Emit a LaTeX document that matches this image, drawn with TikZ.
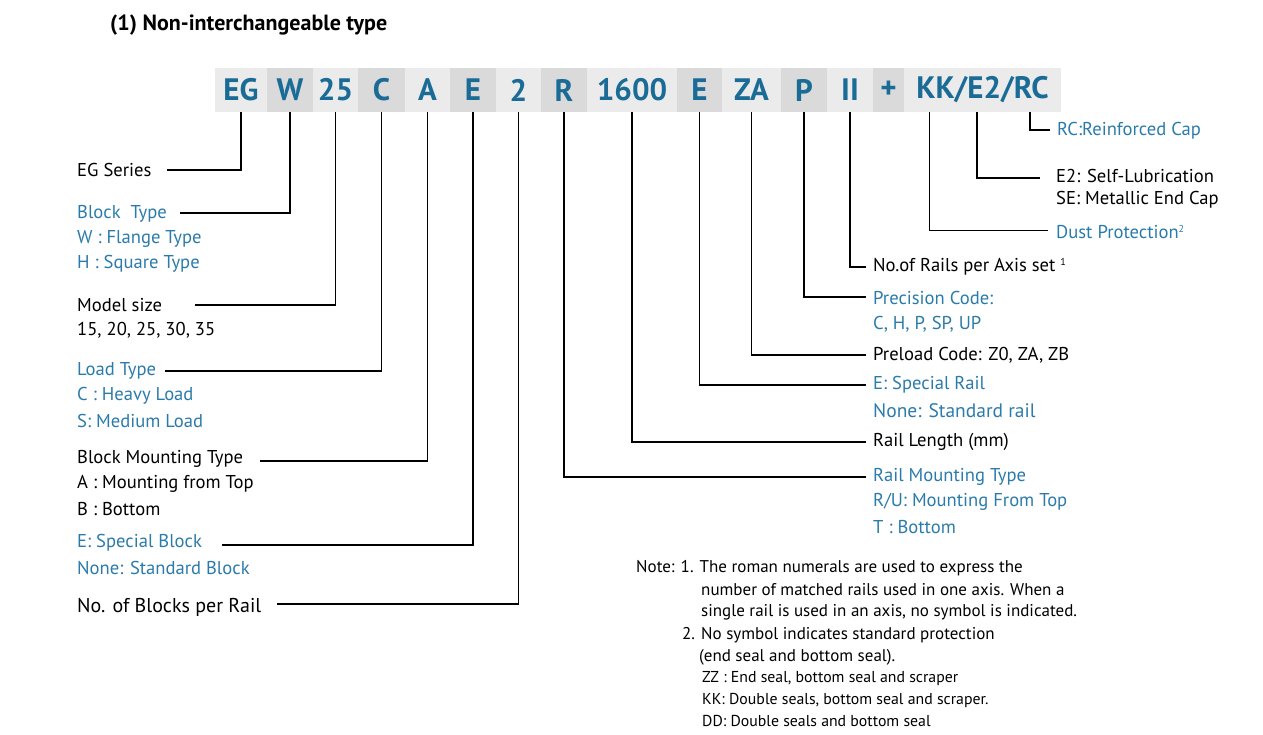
\documentclass[tikz,border=0pt]{standalone}
\usepackage{fontspec}
\setmainfont{PT Sans}
\begin{document}
\definecolor{hb}{HTML}{1A6B96}
\definecolor{lb}{HTML}{2B7BAA}
\definecolor{bx1}{HTML}{EBEBEB}
\definecolor{bx2}{HTML}{DADADA}
\begin{tikzpicture}[x=1pt,y=-1pt,
  box/.style={minimum height=44,inner sep=0,text=hb,font=\fontsize{31}{31}\selectfont\bfseries},
  lab/.style={anchor=west,inner sep=0,font=\fontsize{18.6}{20}\selectfont},
  blu/.style={lab,text=lb},
  nt/.style={anchor=west,inner sep=0,font=\fontsize{17}{18}\selectfont},
  nts/.style={anchor=west,inner sep=0,font=\fontsize{15.8}{17}\selectfont},
  ln/.style={line width=1.6pt}]
\useasboundingbox (0,0) rectangle (1263,735);
\node[anchor=west,inner sep=0,font=\fontsize{22}{24}\selectfont\bfseries] (title) at (110,25) {(1) Non-interchangeable type};
% boxes
\foreach \n/\a/\b/\c/\t in {eg/215/267/bx1/EG, w/267/313/bx2/W, s/313/358/bx1/25, c/358/405/bx2/C, a/405/450/bx1/A, e/450/496/bx2/E, two/496/541/bx1/2, r/541/587/bx2/R, len/587/677/bx1/1600, er/677/722/bx2/E, za/722/781/bx1/ZA, p/781/827/bx2/P, ii/827/873/bx1/II, plus/873/904/bx2/+}
  \node[box,fill=\c,minimum width={\b-\a}] (\n) at ({(\a+\b)/2},90) {\t};
\node[box,fill=bx1,minimum width=157] (kk) at (982.5,90) {KK/E2/RC};
\coordinate (kkt) at (929,112);
\coordinate (e2t) at (977,112);
\coordinate (rct) at (1030,112);
% left labels
\node[lab] (l1) at (77,170) {EG Series};
\node[blu] (l2) at (77,214) {Block\ \ Type};
\node[blu] (l2a) at (77,239) {W : Flange Type};
\node[blu] (l2b) at (77,264) {H : Square Type};
\node[lab] (l3) at (77,305) {Model size};
\node[lab] (l3a) at (77,330) {15, 20, 25, 30, 35};
\node[blu] (l4) at (77,371) {Load Type};
\node[blu] (l4a) at (77,396) {C : Heavy Load};
\node[blu] (l4b) at (77,421) {S: Medium Load};
\node[lab] (l5) at (77,459) {Block Mounting Type};
\node[lab] (l5a) at (77,484) {A : Mounting from Top};
\node[lab] (l5b) at (77,509) {B : Bottom};
\node[blu] (l6) at (77,543) {E: Special Block};
\node[blu] (l6a) at (77,568) {None: Standard Block};
\node[lab,font=\fontsize{20}{22}\selectfont] (l7) at (77,607) {No. of Blocks per Rail};
\draw[ln] (167,170) -| (eg.south);
\draw[ln] (180,213) -| (w.south);
\draw[ln] (195,305) -| (s.south);
\draw[ln] (165,371) -| (c.south);
\draw[ln] (260,461) -| (a.south);
\draw[ln] (222,545) -| (e.south);
\draw[ln] (277,604) -| (two.south);
% right labels
\node[blu] (rc) at (1057,131) {RC:Reinforced Cap};
\node[lab] (e2) at (1056,176) {E2: Self-Lubrication};
\node[lab] (e2a) at (1056,200) {SE: Metallic End Cap};
\node[blu] (dp) at (1056,232) {Dust Protection\raisebox{6pt}{\fontsize{10}{10}\selectfont 2}};
\node[lab] (nr) at (873,267) {No.of Rails per Axis set \raisebox{6pt}{\fontsize{10}{10}\selectfont 1}};
\node[blu] (pc) at (873,298) {Precision Code:};
\node[blu] (pca) at (873,324) {C, H, P, SP, UP};
\node[lab] (pl) at (873,355) {Preload Code: Z0, ZA, ZB};
\node[blu] (sr) at (873,385) {E: Special Rail};
\node[blu,font=\fontsize{19.5}{21}\selectfont] (sra) at (873,411) {None: Standard rail};
\node[lab] (rl) at (873,442) {Rail Length (mm)};
\node[blu] (rm) at (873,477) {Rail Mounting Type};
\node[blu] (rma) at (873,502) {R/U: Mounting From Top};
\node[blu] (rmb) at (873,527) {T : Bottom};
\draw[ln] (rct) |- (1050,130);
\draw[ln] (e2t) |- (1040,178);
\draw[line width=1pt] (kkt) |- (1048,231);
\draw[ln] (ii.south) |- (866,267);
\draw[ln] (p.south) |- (866,297);
\draw[line width=1.2pt] (za.south) |- (866,355);
\draw[line width=1.2pt] (er.south) |- (866,385);
\draw[ln] (len.south) |- (866,442);
\draw[ln] (r.south) |- (866,477);
% notes
\node[nt] (n1) at (636,568) {Note: 1. The roman numerals are used to express the};
\node[nt] (n1a) at (701,590) {number of matched rails used in one axis. When a};
\node[nt] (n1b) at (701,612) {single rail is used in an axis, no symbol is indicated.};
\node[nt] (n2) at (682,635) {2. No symbol indicates standard protection};
\node[nt] (n2a) at (699,657) {(end seal and bottom seal).};
\node[nts] (n2b) at (702,679) {ZZ : End seal, bottom seal and scraper};
\node[nts] (n2c) at (702,700) {KK: Double seals, bottom seal and scraper.};
\node[nts] (n2d) at (702,721) {DD: Double seals and bottom seal};
\end{tikzpicture}
\end{document}
